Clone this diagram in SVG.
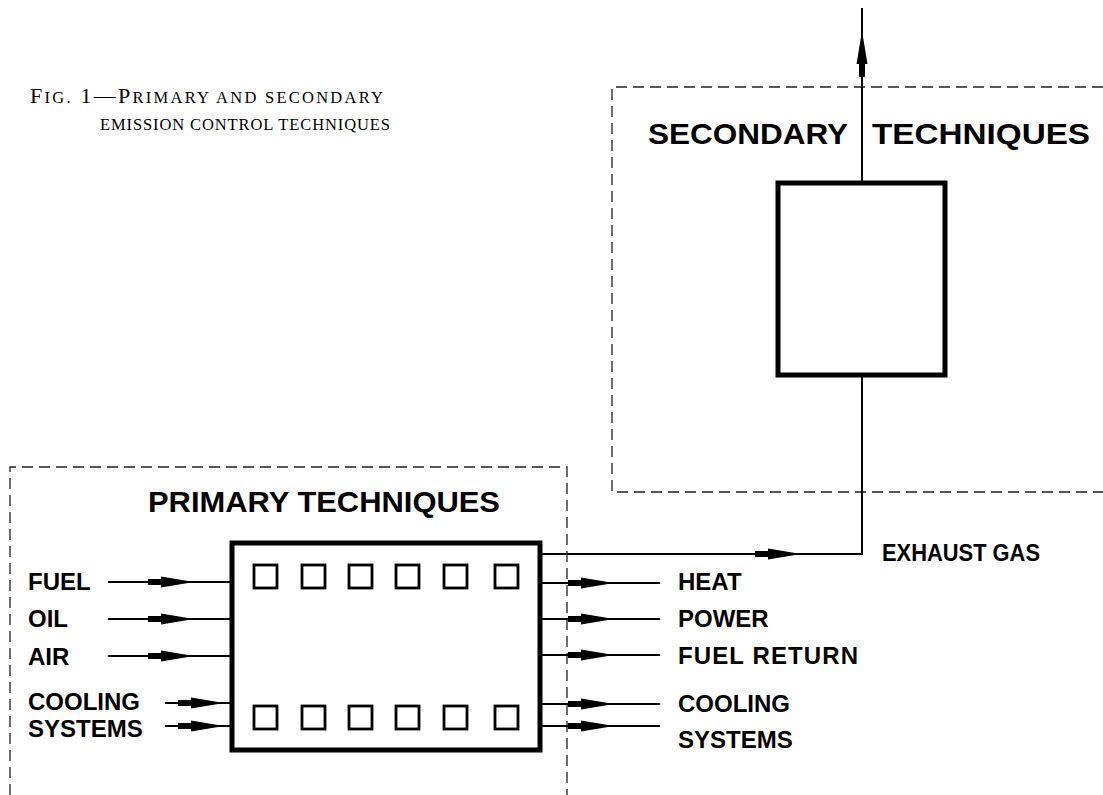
<svg xmlns="http://www.w3.org/2000/svg" width="1103" height="795" viewBox="0 0 1103 795">
<style>
.bg{fill:#fff}
.dash{fill:none;stroke:#222;stroke-width:1.3;stroke-dasharray:11 6}
.node{fill:#fff;stroke:#000;stroke-width:5}
.sq{fill:none;stroke:#000;stroke-width:2.8}
.ln{fill:none;stroke:#000;stroke-width:2}
.ah{fill:#000}
.cap{font-family:"Liberation Serif","Times New Roman",serif;fill:#000}
.ttl{font-family:"Liberation Sans",Arial,sans-serif;font-weight:bold;font-size:30px;fill:#000}
.lbl{font-family:"Liberation Sans",Arial,sans-serif;font-weight:bold;font-size:24px;fill:#000}
</style>
<defs>
<path id="ah" class="ah" d="M-40,-3 H-27 V-5.5 L0,-1 V1 L-27,5.5 V3 H-40 Z"/>
</defs>
<rect class="bg" x="0" y="0" width="1103" height="795"/>

<g id="caption">
<text class="cap" x="30" y="103" textLength="353" lengthAdjust="spacing"><tspan font-size="22">F</tspan><tspan font-size="16.5">IG.</tspan><tspan font-size="22"> 1—P</tspan><tspan font-size="16.5">RIMARY AND SECONDARY</tspan></text>
<text class="cap" x="100" y="130" font-size="16.5" textLength="290" lengthAdjust="spacing">EMISSION CONTROL TECHNIQUES</text>
</g>

<g id="secondary-techniques">
<path class="dash" d="M1103,87 H612 V492 H1103"/>
<text class="ttl" x="648" y="144" textLength="200" lengthAdjust="spacingAndGlyphs">SECONDARY</text>
<text class="ttl" x="872" y="144" textLength="218" lengthAdjust="spacingAndGlyphs">TECHNIQUES</text>
</g>

<g id="primary-techniques">
<path class="dash" d="M10,795 V467 H567 V795"/>
<text class="ttl" x="148" y="512" textLength="352" lengthAdjust="spacingAndGlyphs">PRIMARY TECHNIQUES</text>
</g>

<g id="secondary-unit">
<rect class="node" x="778" y="183" width="167" height="192"/>
</g>

<g id="engine">
<rect class="node" x="232" y="543" width="308" height="207"/>
<g id="engine-top-ports">
<rect class="sq" x="254" y="565" width="23" height="23"/>
<rect class="sq" x="302" y="565" width="23" height="23"/>
<rect class="sq" x="349" y="565" width="23" height="23"/>
<rect class="sq" x="396" y="565" width="23" height="23"/>
<rect class="sq" x="444" y="565" width="23" height="23"/>
<rect class="sq" x="495" y="565" width="23" height="23"/>
</g>
<g id="engine-bottom-ports">
<rect class="sq" x="254" y="706" width="23" height="23"/>
<rect class="sq" x="302" y="706" width="23" height="23"/>
<rect class="sq" x="349" y="706" width="23" height="23"/>
<rect class="sq" x="396" y="706" width="23" height="23"/>
<rect class="sq" x="444" y="706" width="23" height="23"/>
<rect class="sq" x="495" y="706" width="23" height="23"/>
</g>
</g>

<g id="labels">
<text class="lbl" x="28" y="590">FUEL</text>
<text class="lbl" x="28" y="627">OIL</text>
<text class="lbl" x="28" y="665">AIR</text>
<text class="lbl" x="28" y="710">COOLING</text>
<text class="lbl" x="28" y="737">SYSTEMS</text>
<text class="lbl" x="678" y="590">HEAT</text>
<text class="lbl" x="678" y="627">POWER</text>
<text class="lbl" x="678" y="664" textLength="180" lengthAdjust="spacing">FUEL RETURN</text>
<text class="lbl" x="678" y="712">COOLING</text>
<text class="lbl" x="678" y="748">SYSTEMS</text>
<text class="lbl" x="882" y="561" textLength="158" lengthAdjust="spacingAndGlyphs">EXHAUST GAS</text>
</g>

<g id="connectors">
<path class="ln" d="M108,582 H232"/>
<path class="ln" d="M108,619 H232"/>
<path class="ln" d="M108,656 H232"/>
<path class="ln" d="M165,703 H232"/>
<path class="ln" d="M165,726 H232"/>
<use href="#ah" transform="translate(188,582)"/>
<use href="#ah" transform="translate(188,619)"/>
<use href="#ah" transform="translate(188,656)"/>
<use href="#ah" transform="translate(218,703)"/>
<use href="#ah" transform="translate(218,726)"/>

<path class="ln" d="M540,583 H660"/>
<path class="ln" d="M540,619 H660"/>
<path class="ln" d="M540,655 H660"/>
<path class="ln" d="M540,704 H660"/>
<path class="ln" d="M540,726 H660"/>
<use href="#ah" transform="translate(608,583)"/>
<use href="#ah" transform="translate(608,619)"/>
<use href="#ah" transform="translate(608,655)"/>
<use href="#ah" transform="translate(608,704)"/>
<use href="#ah" transform="translate(608,726)"/>

<path class="ln" d="M540,554 H862 V375"/>
<use href="#ah" transform="translate(795,554)"/>

<path class="ln" d="M862,183 V8"/>
<use href="#ah" transform="translate(862,37) rotate(-90)"/>
</g>
</svg>
